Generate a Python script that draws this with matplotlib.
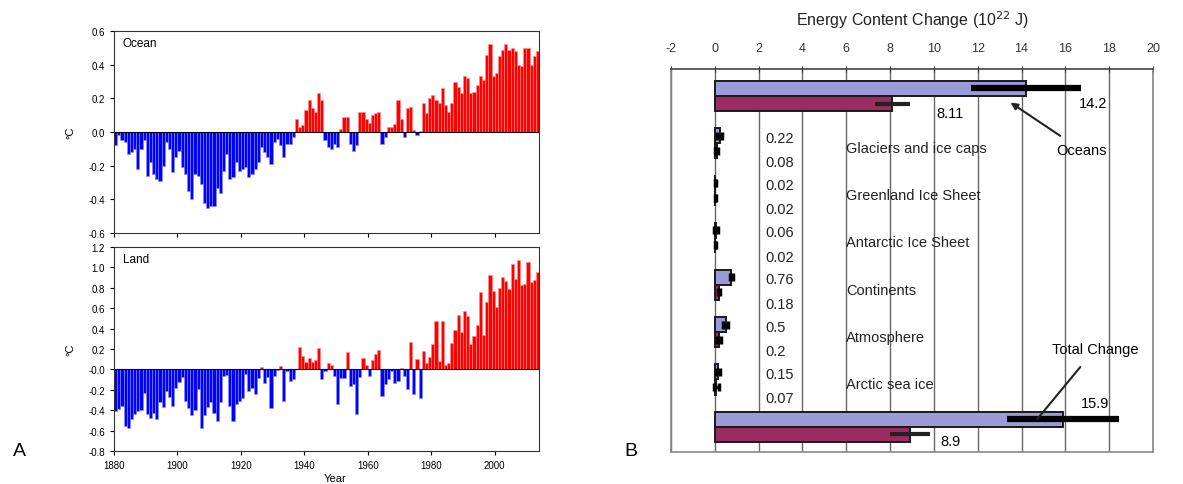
import matplotlib
matplotlib.use('Agg')
import matplotlib.pyplot as plt
import numpy as np

plt.rcParams.update({
    'font.family': ['Liberation Sans', 'DejaVu Sans'],
    'axes.linewidth': 0.8,
    'axes.unicode_minus': False,
})

# ---- Panel A data: annual temperature anomalies (degC), 1880-2013
years = np.arange(1880, 2014)

ocean = [
    -0.08, -0.02, -0.05, -0.06, -0.13, -0.12, -0.10, -0.22, -0.10, -0.05,
    -0.26, -0.18, -0.25, -0.28, -0.29, -0.20, -0.06, -0.10, -0.24, -0.15,
    -0.11, -0.21, -0.25, -0.35, -0.40, -0.25, -0.26, -0.31, -0.42, -0.45,
    -0.44, -0.44, -0.33, -0.36, -0.23, -0.13, -0.28, -0.27, -0.18, -0.23,
    -0.22, -0.21, -0.27, -0.25, -0.22, -0.18, -0.09, -0.12, -0.15, -0.19,
    -0.06, -0.04, -0.08, -0.15, -0.07, -0.07, -0.03,
    0.08, 0.03, 0.04, 0.13, 0.19, 0.14, 0.12, 0.23, 0.19,
    -0.05, -0.09, -0.10, -0.07, -0.09,
    0.02, 0.09, 0.09,
    -0.07, -0.11, -0.08,
    0.12, 0.12, 0.08, 0.055, 0.10, 0.11, 0.12,
    -0.07, -0.03,
    0.03, 0.03, 0.05, 0.19, 0.08, -0.03, 0.14, 0.15, 0.01, -0.02,
    0.005, 0.17, 0.11, 0.20, 0.22, 0.19, 0.17, 0.26, 0.16, 0.12,
    0.17, 0.30, 0.27, 0.23, 0.33, 0.32, 0.23, 0.24, 0.28, 0.33,
    0.31, 0.46, 0.52, 0.33, 0.35, 0.45, 0.49, 0.52, 0.49, 0.50,
    0.48, 0.40, 0.39, 0.50, 0.50, 0.40, 0.45, 0.48,
]

land = [
    -0.41, -0.39, -0.36, -0.55, -0.57, -0.49, -0.44, -0.41, -0.40, -0.23,
    -0.44, -0.48, -0.43, -0.49, -0.32, -0.37, -0.21, -0.27, -0.36, -0.18,
    -0.12, -0.07, -0.31, -0.38, -0.45, -0.40, -0.19, -0.57, -0.45, -0.37,
    -0.32, -0.43, -0.51, -0.32, -0.06, -0.05, -0.36, -0.51, -0.34, -0.31,
    -0.28, -0.04, -0.21, -0.18, -0.24, -0.08, 0.02, -0.13, -0.07, -0.38,
    -0.06, -0.01, 0.03, -0.31, -0.02, -0.11, -0.09, 0.0,
    0.22, 0.13, 0.07, 0.11, 0.07, 0.09, 0.21, -0.09, -0.02, 0.06, 0.04, -0.06,
    -0.34, -0.08, -0.08, 0.17, -0.16, -0.14, -0.44, -0.07, 0.11, 0.04,
    -0.06, 0.09, 0.15, 0.19, -0.26, -0.14, -0.09, -0.02, -0.13, -0.11,
    0.01, -0.06, -0.19, 0.27, -0.24, 0.10, -0.28, 0.18, 0.06, 0.12,
    0.25, 0.47, 0.08, 0.47, 0.04, 0.06, 0.26, 0.39, 0.53, 0.37,
    0.57, 0.52, 0.25, 0.33, 0.44, 0.76, 0.34, 0.66, 0.93, 0.77,
    0.61, 0.80, 0.91, 0.87, 0.79, 1.03, 0.89, 1.07, 0.83, 0.84,
    1.05, 0.86, 0.88, 0.96,
]

# ---- Panel B data: energy content change (10^22 J)
components = ['Oceans', 'Glaciers and ice caps', 'Greenland Ice Sheet',
              'Antarctic Ice Sheet', 'Continents', 'Atmosphere',
              'Arctic sea ice', 'Total Change']
upper_est = [14.2, 0.22, 0.02, 0.06, 0.76, 0.5, 0.15, 15.9]
upper_err = [2.5, 0.10, 0.02, 0.10, 0.08, 0.12, 0.10, 2.55]
lower_est = [8.11, 0.08, 0.02, 0.02, 0.18, 0.2, 0.07, 8.9]
lower_err = [0.8, 0.05, 0.02, 0.02, 0.05, 0.10, 0.12, 0.9]

fig = plt.figure(figsize=(11.83, 4.85), dpi=100)


def anomaly_panel(ax, vals, ylim, yticks, name):
    vals = np.asarray(vals)
    pos = vals >= 0
    ax.bar(years[pos], vals[pos], width=1.0, align='edge', color='#ff0000',
           edgecolor='#ff8c8c', linewidth=0.4)
    ax.bar(years[~pos], vals[~pos], width=1.0, align='edge', color='#0000ff',
           edgecolor='#8c8cff', linewidth=0.4)
    ax.axhline(0, color='black', linewidth=0.8)
    ax.set_xlim(1880, 2014)
    ax.set_ylim(*ylim)
    ax.set_yticks(yticks)
    ax.set_yticklabels([f'{t:.1f}' for t in yticks])
    ax.set_xticks(np.arange(1880, 2001, 20))
    ax.tick_params(labelsize=7, length=3, width=0.8, direction='out')
    for s in ax.spines.values():
        s.set_color('#333333')
    ax.set_ylabel('°C', fontsize=8, labelpad=9)
    ax.text(0.02, 0.94, name, transform=ax.transAxes, fontsize=8.5,
            ha='left', va='center')


ax1 = fig.add_axes([0.0964, 0.5175, 0.3593, 0.4165])
anomaly_panel(ax1, ocean, (-0.6, 0.6), np.arange(-0.6, 0.61, 0.2), 'Ocean')
ax1.set_xticklabels([])

ax2 = fig.add_axes([0.0964, 0.068, 0.3593, 0.4206])
anomaly_panel(ax2, land, (-0.8, 1.2), np.arange(-0.8, 1.21, 0.2), 'Land')
ax2.set_xlabel('Year', fontsize=8, labelpad=2, x=0.52)

fig.text(0.011, 0.07, 'A', fontsize=14, ha='left', va='center')
fig.text(0.528, 0.07, 'B', fontsize=14, ha='left', va='center')

# ---- Panel B
axb = fig.add_axes([0.5672, 0.0666, 0.4074, 0.789])
rows = np.arange(len(components))
h = 0.32
axb.set_xlim(-2, 20)
axb.set_ylim(7.53, -0.57)
axb.set_xticks(np.arange(-2, 21, 2))
axb.xaxis.tick_top()
axb.set_yticks([])
axb.tick_params(axis='x', labelsize=9, colors='#333333', length=4,
                direction='inout', pad=9)
axb.grid(True, axis='x', color='#666666', linewidth=1.0)
axb.set_axisbelow(True)
for s in axb.spines.values():
    s.set_color('#888888')
    s.set_linewidth(1.2)
axb.spines['top'].set_color('#444444')
axb.set_title('Energy Content Change (10$^{22}$ J)', fontsize=11.5,
              color='#222222', pad=32)

axb.barh(rows - h / 2, upper_est, height=h, color='#9b9bd8',
         edgecolor='#1a1a1a', linewidth=1.4)
axb.barh(rows + h / 2, lower_est, height=h, color='#9b2c62',
         edgecolor='#1a1a1a', linewidth=1.4)

big = [0, 7]
small = [1, 2, 3, 4, 5, 6]
axb.errorbar([upper_est[i] for i in big], rows[big] - h / 2,
             xerr=[upper_err[i] for i in big], fmt='none', ecolor='black',
             elinewidth=4.5, capsize=0)
axb.errorbar([lower_est[i] for i in big], rows[big] + h / 2,
             xerr=[lower_err[i] for i in big], fmt='none', ecolor='#222222',
             elinewidth=3, capsize=0)
axb.errorbar([upper_est[i] for i in small], rows[small] - h / 2,
             xerr=[upper_err[i] for i in small], fmt='none', ecolor='black',
             elinewidth=2.5, capsize=3, capthick=2.5)
axb.errorbar([lower_est[i] for i in small], rows[small] + h / 2,
             xerr=[lower_err[i] for i in small], fmt='none', ecolor='black',
             elinewidth=2.5, capsize=3, capthick=2.5)

tfs = 10.5
for i in small:
    axb.text(2.3, rows[i] - 0.12, f'{upper_est[i]:g}', fontsize=tfs,
             ha='left', va='center', color='#222222')
    axb.text(2.3, rows[i] + 0.4, f'{lower_est[i]:g}', fontsize=tfs,
             ha='left', va='center', color='#222222')
    axb.text(6.0, rows[i] + 0.1, components[i], fontsize=tfs,
             ha='left', va='center', color='#222222')

axb.text(16.6, 0.14, f'{upper_est[0]:g}', fontsize=tfs, ha='left', va='center')
axb.text(10.1, 0.36, f'{lower_est[0]:g}', fontsize=tfs, ha='left', va='center')
axb.text(16.7, 7 - 0.5, f'{upper_est[7]:g}', fontsize=tfs, ha='left', va='center')
axb.text(10.3, 7 + 0.3, f'{lower_est[7]:g}', fontsize=tfs, ha='left', va='center')

axb.annotate(components[0], xy=(13.5, 0.14), xytext=(15.6, 1.15),
             fontsize=tfs, ha='left', va='center',
             arrowprops=dict(arrowstyle='-|>', color='#222222', lw=1.5,
                             shrinkA=6, shrinkB=0, mutation_scale=10))
axb.annotate(components[7], xy=(14.7, 6.85), xytext=(15.4, 5.35),
             fontsize=tfs, ha='left', va='center',
             arrowprops=dict(arrowstyle='-', color='#222222', lw=1.5,
                             shrinkA=8, shrinkB=0))

fig.savefig('out.png', dpi=100)
